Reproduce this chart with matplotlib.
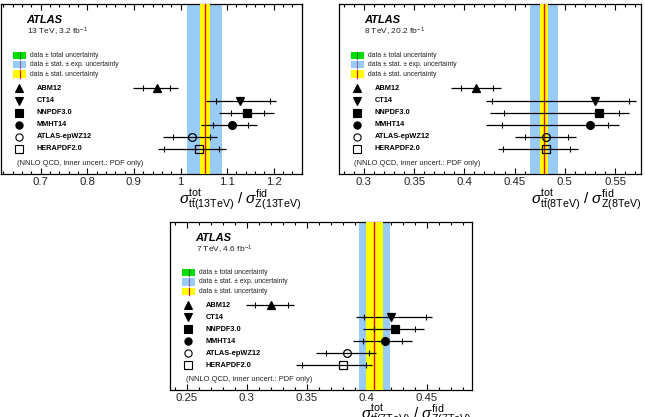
import numpy as np
import matplotlib
matplotlib.use('Agg')
import matplotlib.pyplot as plt
from matplotlib.patches import Rectangle
from matplotlib.ticker import MultipleLocator, FuncFormatter

plt.rcParams['font.family'] = ['Liberation Sans', 'DejaVu Sans']
plt.rcParams['mathtext.fontset'] = 'custom'
plt.rcParams['mathtext.rm'] = 'Liberation Sans'
plt.rcParams['mathtext.it'] = 'Liberation Sans:italic'
plt.rcParams['mathtext.bf'] = 'Liberation Sans:bold'

models = ['ABM12', 'CT14', 'NNPDF3.0', 'MMHT14', 'ATLAS-epWZ12', 'HERAPDF2.0']

# 13 TeV
data13 = 1.052
stat13 = [1.0414, 1.0629]
exp13 = [1.014, 1.089]
tot13 = [1.014, 1.089]
cen13 = [0.9486, 1.127, 1.1435, 1.1114, 1.025, 1.040]
in_lo13 = [0.920, 1.076, 1.109, 1.0686, 0.984, 0.965]
in_hi13 = [0.977, 1.191, 1.1786, 1.145, 1.063, 1.082]
out_lo13 = [0.897, 1.054, 1.082, 1.045, 0.963, 0.952]
out_hi13 = [0.995, 1.204, 1.2006, 1.165, 1.079, 1.097]

# 8 TeV
data8 = 0.4792
stat8 = [0.475, 0.4832]
exp8 = [0.4656, 0.4928]
tot8 = [0.4656, 0.4928]
cen8 = [0.4120, 0.5296, 0.5342, 0.5253, 0.4815, 0.4815]
in_lo8 = [0.397, 0.4275, 0.4392, 0.4375, 0.460, 0.4382]
in_hi8 = [0.4282, 0.564, 0.5535, 0.5429, 0.5031, 0.5054]
out_lo8 = [0.3871, 0.4219, 0.4252, 0.4219, 0.4501, 0.4335]
out_hi8 = [0.4365, 0.5707, 0.564, 0.5535, 0.5111, 0.513]

# 7 TeV
data7 = 0.4058
stat7 = [0.3992, 0.4133]
exp7 = [0.3936, 0.4194]
tot7 = [0.3936, 0.4194]
cen7 = [0.3203, 0.4203, 0.4236, 0.4153, 0.3833, 0.3806]
in_lo7 = [0.3069, 0.3978, 0.4064, 0.3972, 0.3658, 0.3458]
in_hi7 = [0.3342, 0.4494, 0.4403, 0.4297, 0.4019, 0.3992]
out_lo7 = [0.2994, 0.3911, 0.3972, 0.3883, 0.3575, 0.3411]
out_hi7 = [0.3397, 0.4542, 0.448, 0.4375, 0.4075, 0.4047]

markers = ['^', 'v', 's', 'o', 'o', 's']
filled = [True, True, True, True, False, False]
green = '#00dd00'
blue = '#99ccf5'
yellow = '#ffff00'
red = '#ee0000'

fig = plt.figure(figsize=(6.45, 4.17), dpi=100)


def panel(rect, xlim, major, minor, energy, lumi, data, stat, exp, tot,
          cen, in_lo, in_hi, out_lo, out_hi):
    ax = fig.add_axes(rect)
    ax.set_xlim(*xlim)
    ax.set_ylim(0, 1)
    ax.set_yticks([])
    ax.xaxis.set_major_locator(MultipleLocator(major))
    ax.xaxis.set_minor_locator(MultipleLocator(minor))
    ax.xaxis.set_major_formatter(FuncFormatter(lambda v, p: '%g' % round(v, 4)))
    ax.tick_params(axis='x', which='both', direction='in', top=True, bottom=True,
                   width=0.8, labelsize=8.2, pad=2.5, labelcolor='#222222')
    ax.tick_params(axis='x', which='major', length=4)
    ax.tick_params(axis='x', which='minor', length=2)
    for s in ax.spines.values():
        s.set_linewidth(0.9)

    # data bands
    ax.axvspan(tot[0], tot[1], color=green, lw=0, zorder=1)
    ax.axvspan(exp[0], exp[1], color=blue, lw=0, zorder=2)
    ax.axvspan(stat[0], stat[1], color=yellow, lw=0, zorder=3)
    ax.axvline(data, color=red, lw=1.0, zorder=4)

    ys = 0.503 - 0.071 * np.arange(len(models))
    cen = np.array(cen)
    ax.errorbar(cen, ys, xerr=[cen - np.array(out_lo), np.array(out_hi) - cen],
                fmt='none', ecolor='black', elinewidth=0.9, capsize=0, zorder=5)
    ax.errorbar(cen, ys, xerr=[cen - np.array(in_lo), np.array(in_hi) - cen],
                fmt='none', ecolor='black', elinewidth=0, capsize=2.0,
                capthick=0.8, zorder=5)
    for i in range(len(models)):
        fc = 'black' if filled[i] else 'none'
        ax.plot(cen[i], ys[i], marker=markers[i], ms=5.6, mfc=fc, mec='black',
                mew=0.9, ls='none', zorder=6)
        ax.plot(0.06, ys[i], marker=markers[i], ms=5.2, mfc=fc, mec='black',
                mew=0.8, ls='none', transform=ax.transAxes, zorder=6)
        ax.text(0.118, ys[i], models[i], transform=ax.transAxes, fontsize=5.3,
                fontweight='bold', va='center', ha='left')

    # band legend
    leg = [(green, '#007700', 'data \u00b1 total uncertainty'),
           (blue, '#9955aa', 'data \u00b1 stat. \u00b1 exp. uncertainty'),
           (yellow, red, 'data \u00b1 stat. uncertainty')]
    for j, (fc, lc, lab) in enumerate(leg):
        yc = 0.696 - 0.054 * j
        ax.add_patch(Rectangle((0.041, yc - 0.021), 0.042, 0.042, facecolor=fc,
                               edgecolor='none', transform=ax.transAxes, zorder=6))
        ax.plot([0.062, 0.062], [yc - 0.021, yc + 0.021], color=lc, lw=0.8,
                transform=ax.transAxes, zorder=7)
        ax.text(0.097, yc, lab, transform=ax.transAxes, fontsize=4.9,
                va='center', ha='left', color='#222222')

    ax.text(0.085, 0.905, 'ATLAS', transform=ax.transAxes, fontsize=8,
            fontweight='bold', fontstyle='italic', va='center', ha='left')
    ax.text(0.085, 0.834, '%s TeV, %s fb$^{-1}$' % (energy, lumi),
            transform=ax.transAxes, fontsize=6.0, va='center', ha='left',
            color='#222222')
    ax.text(0.052, 0.063, '(NNLO QCD, inner uncert.: PDF only)',
            transform=ax.transAxes, fontsize=5.4, va='center', ha='left',
            color='#222222')
    ax.text(1.0, -0.075,
            r'$\sigma^{\rm tot}_{\rm t\bar{t}(%sTeV)}$ / $\sigma^{\rm fid}_{\rm Z(%sTeV)}$'
            % (energy, energy),
            transform=ax.transAxes, fontsize=11, va='top', ha='right')
    return ax


panel([0.0016, 0.5827, 0.4662, 0.4077], (0.615, 1.26), 0.1, 0.02, '13', '3.2',
      data13, stat13, exp13, tot13, cen13, in_lo13, in_hi13, out_lo13, out_hi13)
panel([0.5251, 0.5827, 0.4691, 0.4077], (0.275, 0.576), 0.05, 0.01, '8', '20.2',
      data8, stat8, exp8, tot8, cen8, in_lo8, in_hi8, out_lo8, out_hi8)
panel([0.2636, 0.0647, 0.4677, 0.4036], (0.236, 0.4875), 0.05, 0.01, '7', '4.6',
      data7, stat7, exp7, tot7, cen7, in_lo7, in_hi7, out_lo7, out_hi7)

fig.savefig('out.png', dpi=100)
